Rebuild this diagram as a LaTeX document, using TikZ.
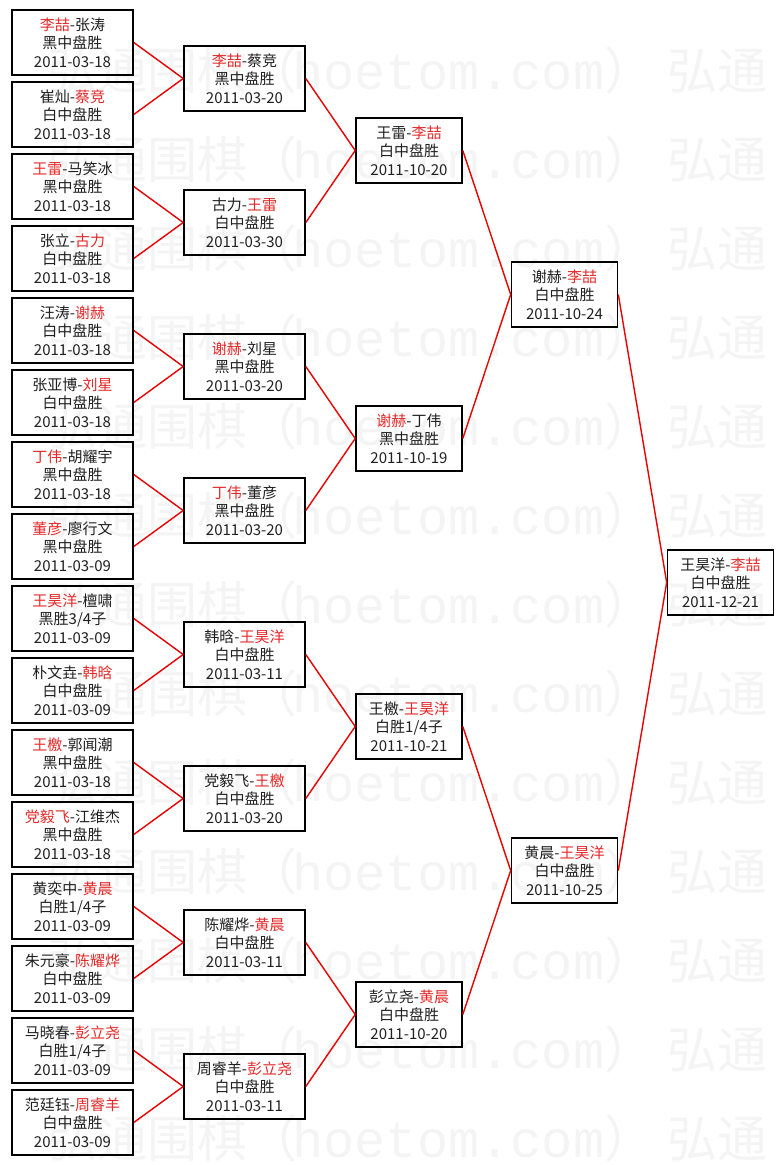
\documentclass[tikz,border=0pt]{standalone}
\usepackage{fontspec}
\setmainfont{Noto Sans CJK SC}
\newfontfamily\wmlatin{Liberation Mono}
\definecolor{winred}{RGB}{228,40,40}
\definecolor{linkred}{RGB}{232,0,0}
\definecolor{wmgray}{RGB}{244,244,244}
\newcommand{\win}[1]{\textcolor{winred}{#1}}
\tikzset{
  game/.style={draw,line width=1.6pt,minimum width=121pt,minimum height=65pt,inner sep=0pt,
    align=center,text=black!88,font=\fontsize{15}{18.5}\selectfont},
  semi/.style={game,minimum width=106pt},
  link/.style={draw=linkred,line width=1.4pt},
  wmtext/.style={text=wmgray,anchor=base west,inner sep=0pt,font=\fontsize{50}{50}\selectfont}
}
\begin{document}
\begin{tikzpicture}[x=1pt,y=-1pt]
  \useasboundingbox (0,0) rectangle (784,1165);
  % watermark rows
  \foreach \k in {0,...,12}{
    \node[wmtext] (wa\k) at (47,{89+89*\k}) {弘通围棋（};
    \node[wmtext,font=\wmlatin\fontsize{52}{52}\selectfont] (wb\k) at (292,{89+89*\k}) {hoetom.com};
    \node[wmtext] (wc\k) at (604,{89+89*\k}) {）};
    \node[wmtext] (wd\k) at (667,{89+89*\k}) {弘通};
  }
  % first round
  \node[game] (a1) at (72.5,42.5) {\win{李喆}-张涛\\黑中盘胜\\2011-03-18};
  \node[game] (a2) at (72.5,114.5) {崔灿-\win{蔡竞}\\白中盘胜\\2011-03-18};
  \node[game] (a3) at (72.5,186.5) {\win{王雷}-马笑冰\\黑中盘胜\\2011-03-18};
  \node[game] (a4) at (72.5,258.5) {张立-\win{古力}\\白中盘胜\\2011-03-18};
  \node[game] (a5) at (72.5,330.5) {汪涛-\win{谢赫}\\白中盘胜\\2011-03-18};
  \node[game] (a6) at (72.5,402.5) {张亚博-\win{刘星}\\白中盘胜\\2011-03-18};
  \node[game] (a7) at (72.5,474.5) {\win{丁伟}-胡耀宇\\黑中盘胜\\2011-03-18};
  \node[game] (a8) at (72.5,546.5) {\win{董彦}-廖行文\\黑中盘胜\\2011-03-09};
  \node[game] (a9) at (72.5,618.5) {\win{王昊洋}-檀啸\\黑胜3/4子\\2011-03-09};
  \node[game] (a10) at (72.5,690.5) {朴文垚-\win{韩晗}\\白中盘胜\\2011-03-09};
  \node[game] (a11) at (72.5,762.5) {\win{王檄}-郭闻潮\\黑中盘胜\\2011-03-18};
  \node[game] (a12) at (72.5,834.5) {\win{党毅飞}-江维杰\\黑中盘胜\\2011-03-18};
  \node[game] (a13) at (72.5,906.5) {黄奕中-\win{黄晨}\\白胜1/4子\\2011-03-09};
  \node[game] (a14) at (72.5,978.5) {朱元豪-\win{陈耀烨}\\白中盘胜\\2011-03-09};
  \node[game] (a15) at (72.5,1050.5) {马晓春-\win{彭立尧}\\白胜1/4子\\2011-03-09};
  \node[game] (a16) at (72.5,1122.5) {范廷钰-\win{周睿羊}\\白中盘胜\\2011-03-09};
  % second round
  \node[game] (b1) at (244.5,78.5) {\win{李喆}-蔡竞\\黑中盘胜\\2011-03-20};
  \node[game] (b2) at (244.5,222.5) {古力-\win{王雷}\\白中盘胜\\2011-03-30};
  \node[game] (b3) at (244.5,366.5) {\win{谢赫}-刘星\\黑中盘胜\\2011-03-20};
  \node[game] (b4) at (244.5,510.5) {\win{丁伟}-董彦\\黑中盘胜\\2011-03-20};
  \node[game] (b5) at (244.5,654.5) {韩晗-\win{王昊洋}\\白中盘胜\\2011-03-11};
  \node[game] (b6) at (244.5,798.5) {党毅飞-\win{王檄}\\白中盘胜\\2011-03-20};
  \node[game] (b7) at (244.5,942.5) {陈耀烨-\win{黄晨}\\白中盘胜\\2011-03-11};
  \node[game] (b8) at (244.5,1086.5) {周睿羊-\win{彭立尧}\\白中盘胜\\2011-03-11};
  % quarter finals
  \node[semi] (c1) at (409,150.5) {王雷-\win{李喆}\\白中盘胜\\2011-10-20};
  \node[semi] (c2) at (409,438.5) {\win{谢赫}-丁伟\\黑中盘胜\\2011-10-19};
  \node[semi] (c3) at (409,726.5) {王檄-\win{王昊洋}\\白胜1/4子\\2011-10-21};
  \node[semi] (c4) at (409,1014.5) {彭立尧-\win{黄晨}\\白中盘胜\\2011-10-20};
  % semi finals and final
  \node[semi] (d1) at (564.5,294.5) {谢赫-\win{李喆}\\白中盘胜\\2011-10-24};
  \node[semi] (d2) at (564.5,870.5) {黄晨-\win{王昊洋}\\白中盘胜\\2011-10-25};
  \node[semi] (e1) at (720.5,582.5) {王昊洋-\win{李喆}\\白中盘胜\\2011-12-21};
  % links
  \draw[link] (a1.east)--(b1.west); \draw[link] (a2.east)--(b1.west);
  \draw[link] (a3.east)--(b2.west); \draw[link] (a4.east)--(b2.west);
  \draw[link] (a5.east)--(b3.west); \draw[link] (a6.east)--(b3.west);
  \draw[link] (a7.east)--(b4.west); \draw[link] (a8.east)--(b4.west);
  \draw[link] (a9.east)--(b5.west); \draw[link] (a10.east)--(b5.west);
  \draw[link] (a11.east)--(b6.west); \draw[link] (a12.east)--(b6.west);
  \draw[link] (a13.east)--(b7.west); \draw[link] (a14.east)--(b7.west);
  \draw[link] (a15.east)--(b8.west); \draw[link] (a16.east)--(b8.west);
  \draw[link] (b1.east)--(c1.west); \draw[link] (b2.east)--(c1.west);
  \draw[link] (b3.east)--(c2.west); \draw[link] (b4.east)--(c2.west);
  \draw[link] (b5.east)--(c3.west); \draw[link] (b6.east)--(c3.west);
  \draw[link] (b7.east)--(c4.west); \draw[link] (b8.east)--(c4.west);
  \draw[link] (c1.east)--(d1.west); \draw[link] (c2.east)--(d1.west);
  \draw[link] (c3.east)--(d2.west); \draw[link] (c4.east)--(d2.west);
  \draw[link] (d1.east)--(e1.west); \draw[link] (d2.east)--(e1.west);
\end{tikzpicture}
\end{document}
